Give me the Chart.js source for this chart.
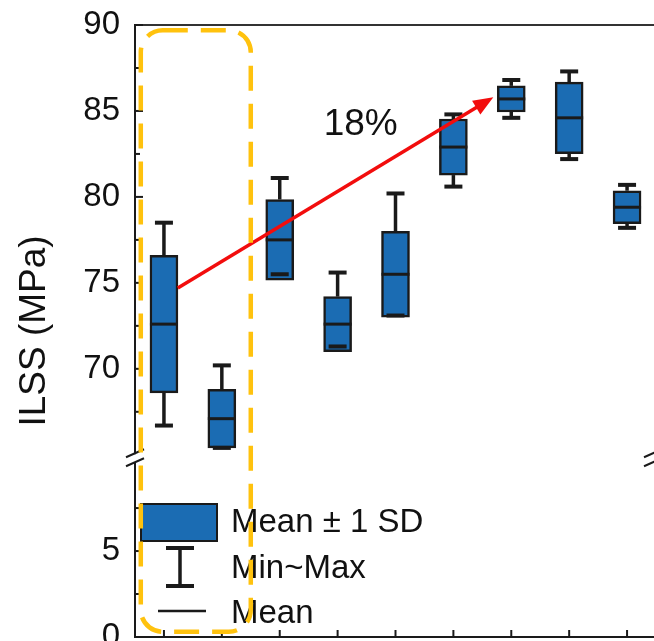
<!DOCTYPE html>
<html>
<head>
<meta charset="utf-8">
<script src="https://cdn.jsdelivr.net/npm/chart.js@4.4.1/dist/chart.umd.min.js"></script>
<style>
  html, body { margin: 0; padding: 0; background: #fff; overflow: hidden; }
  #wrap { width: 660px; height: 665px; }
</style>
</head>
<body>
<div id="wrap"><canvas id="chart" width="660" height="665"></canvas></div>
<script>
// data (ILSS, MPa)
const categories = ['1', '2', '3', '4', '5', '6', '7', '8', '9'];
const meanVals = [72.6, 67.1, 77.5, 72.6, 75.5, 82.9, 85.7, 84.6, 79.4];
const sdVals   = [4.0, 1.7, 2.35, 1.6, 2.5, 1.63, 0.76, 2.08, 0.96];
const minVals  = [66.7, 65.4, 75.5, 71.3, 73.1, 80.6, 84.6, 82.2, 78.2];
const maxVals  = [78.5, 70.2, 81.1, 75.6, 80.2, 84.8, 86.8, 87.3, 80.7];

// broken y axis: upper part + lower part
const upperTicks = [70, 75, 80, 85, 90];
const upperMinor = [67.5, 72.5, 77.5, 82.5, 87.5];
const lowerTicks = [0, 5];
const lowerMinor = [2.5, 7.5];

// annotation values (category index, MPa)
const arrowFrom = [0.24, 74.7];
const arrowTo = [5.69, 85.8];
const arrowLabel = '18%';
const arrowLabelAt = [2.76, 83.6];
const frameCats = [-0.4, 1.5];

const fontFamily = "'Liberation Sans', Arial, sans-serif";
const boxBlue = '#1b6cb3';
const inkColor = '#1a1a1a';

Chart.defaults.font.family = fontFamily;

const boxData = meanVals.map((m, i) => [m - sdVals[i], m + sdVals[i]]);

function line(ctx, x1, y1, x2, y2) {
    ctx.beginPath();
    ctx.moveTo(x1, y1);
    ctx.lineTo(x2, y2);
    ctx.stroke();
}

// whiskers + mean line for every box
const boxExtras = {
    id: 'boxExtras',
    afterDatasetsDraw(chart) {
        const {ctx} = chart;
        const y = chart.scales.y;
        const meta = chart.getDatasetMeta(0);
        ctx.save();
        ctx.strokeStyle = inkColor;
        meta.data.forEach((bar, i) => {
            const cx = bar.x;
            const half = bar.width / 2;
            const yMax = y.getPixelForValue(maxVals[i]);
            const yMin = y.getPixelForValue(minVals[i]);
            const yHi = y.getPixelForValue(meanVals[i] + sdVals[i]);
            const yLo = y.getPixelForValue(meanVals[i] - sdVals[i]);
            const yMean = y.getPixelForValue(meanVals[i]);
            ctx.lineWidth = 3.5;
            if (yMax < yHi) line(ctx, cx, yMax, cx, yHi);
            if (yMin > yLo) line(ctx, cx, yLo, cx, yMin);
            ctx.lineWidth = 4;
            line(ctx, cx - 9, yMax, cx + 9, yMax);
            line(ctx, cx - 9, yMin, cx + 9, yMin);
            ctx.lineWidth = 3;
            line(ctx, cx - half, yMean, cx + half, yMean);
        });
        ctx.restore();
    }
};

// frame top line, inward ticks, axis break marks
const axisDecor = {
    id: 'axisDecor',
    afterDraw(chart) {
        const {ctx, chartArea} = chart;
        const {x, y, yLow} = chart.scales;
        ctx.save();
        ctx.strokeStyle = '#333';
        ctx.lineWidth = 2;
        line(ctx, chartArea.left, chartArea.top, chartArea.right, chartArea.top);

        ctx.strokeStyle = inkColor;
        const L = chartArea.left;
        upperTicks.forEach(v => line(ctx, L, y.getPixelForValue(v), L + 8, y.getPixelForValue(v)));
        upperMinor.forEach(v => line(ctx, L, y.getPixelForValue(v), L + 5, y.getPixelForValue(v)));
        lowerTicks.forEach(v => line(ctx, L, yLow.getPixelForValue(v), L + 8, yLow.getPixelForValue(v)));
        lowerMinor.forEach(v => line(ctx, L, yLow.getPixelForValue(v), L + 5, yLow.getPixelForValue(v)));
        const B = chartArea.bottom;
        categories.forEach((c, i) => line(ctx, x.getPixelForValue(i), B, x.getPixelForValue(i), B - 7));

        // break marks "//" on both sides
        const yb = y.bottom;
        [chartArea.left, chartArea.right - 3].forEach(xb => {
            ctx.fillStyle = '#fff';
            ctx.fillRect(xb - 2, yb - 4, 4, 8);
            ctx.lineWidth = 2;
            line(ctx, xb - 9, yb - 1, xb + 9, yb - 9);
            line(ctx, xb - 9, yb + 8, xb + 9, yb);
        });
        ctx.restore();
    }
};

// arrow, label, dashed frame, legend, y title
const annotations = {
    id: 'annotations',
    afterDraw(chart) {
        const {ctx, chartArea} = chart;
        const {x, y, yLow} = chart.scales;
        ctx.save();

        // red arrow
        const x1 = x.getPixelForValue(arrowFrom[0]), y1 = y.getPixelForValue(arrowFrom[1]);
        const x2 = x.getPixelForValue(arrowTo[0]), y2 = y.getPixelForValue(arrowTo[1]);
        const ang = Math.atan2(y2 - y1, x2 - x1);
        const head = 20;
        ctx.strokeStyle = '#f20d0d';
        ctx.fillStyle = '#f20d0d';
        ctx.lineWidth = 3.5;
        line(ctx, x1, y1, x2 - head * 0.8 * Math.cos(ang), y2 - head * 0.8 * Math.sin(ang));
        ctx.beginPath();
        ctx.moveTo(x2, y2);
        ctx.lineTo(x2 - head * Math.cos(ang) + 8 * Math.sin(ang), y2 - head * Math.sin(ang) - 8 * Math.cos(ang));
        ctx.lineTo(x2 - head * Math.cos(ang) - 8 * Math.sin(ang), y2 - head * Math.sin(ang) + 8 * Math.cos(ang));
        ctx.closePath();
        ctx.fill();

        ctx.fillStyle = '#111';
        ctx.font = '37px ' + fontFamily;
        ctx.textAlign = 'left';
        ctx.textBaseline = 'alphabetic';
        ctx.fillText(arrowLabel, x.getPixelForValue(arrowLabelAt[0]), y.getPixelForValue(arrowLabelAt[1]));

        // legend
        const lx = chartArea.left, lb = chartArea.bottom;
        ctx.fillStyle = boxBlue;
        ctx.strokeStyle = inkColor;
        ctx.lineWidth = 2;
        ctx.fillRect(lx + 6, lb - 133, 76, 37);
        ctx.strokeRect(lx + 6, lb - 133, 76, 37);
        ctx.lineWidth = 3.5;
        line(ctx, lx + 45, lb - 89, lx + 45, lb - 51);
        ctx.lineWidth = 4;
        line(ctx, lx + 31, lb - 89, lx + 59, lb - 89);
        line(ctx, lx + 31, lb - 51, lx + 59, lb - 51);
        ctx.lineWidth = 2.5;
        line(ctx, lx + 23, lb - 26, lx + 71, lb - 26);
        ctx.fillStyle = '#111';
        ctx.font = '33px ' + fontFamily;
        ctx.fillText('Mean \u00b1 1 SD', lx + 96, lb - 105);
        ctx.fillText('Min~Max', lx + 96, lb - 59);
        ctx.fillText('Mean', lx + 96, lb - 14);

        // dashed yellow frame around the first two groups
        const fl = x.getPixelForValue(frameCats[0]);
        const fr = x.getPixelForValue(frameCats[1]);
        const ft = y.getPixelForValue(89.7);
        const fb = yLow.getPixelForValue(0.3);
        ctx.strokeStyle = '#ffc20e';
        ctx.lineWidth = 4.5;
        ctx.setLineDash([25, 13]);
        ctx.beginPath();
        ctx.roundRect(fl, ft, fr - fl, fb - ft, 22);
        ctx.stroke();
        ctx.setLineDash([]);

        // y axis title, centred on the whole broken axis
        ctx.fillStyle = '#111';
        ctx.font = '37px ' + fontFamily;
        ctx.translate(35, (chartArea.top + chartArea.bottom) / 2);
        ctx.rotate(-Math.PI / 2);
        ctx.textAlign = 'center';
        ctx.textBaseline = 'middle';
        ctx.fillText('ILSS (MPa)', 0, 0);
        ctx.restore();
    }
};

const yCommon = {
    type: 'linear',
    position: 'left',
    stack: 'ilss',
    grid: { display: false, drawTicks: false },
    border: { display: true, color: inkColor, width: 2 },
    ticks: { color: '#111', font: { size: 33 }, padding: 15 },
    afterFit: scale => {
        scale.width = 135;
        scale.paddingTop = 0;
        scale.paddingBottom = 0;
    }
};

const ctx = document.getElementById('chart');

const config = {
    type: 'bar',
    data: {
        labels: categories,
        datasets: [{
            label: 'Mean \u00b1 1 SD',
            data: boxData,
            yAxisID: 'y',
            backgroundColor: boxBlue,
            borderColor: inkColor,
            borderWidth: 2.5,
            borderSkipped: false,
            barThickness: 28
        }]
    },
    options: {
        responsive: false,
        animation: false,
        layout: { padding: { top: 25, right: 4, bottom: 28, left: 0 } },
        plugins: {
            legend: { display: false },
            tooltip: { enabled: false }
        },
        scales: {
            x: {
                offset: true,
                grid: { display: false, drawTicks: false },
                ticks: { display: false },
                border: { display: true, color: inkColor, width: 2 },
                afterFit: scale => { scale.height = 0; }
            },
            // lower part first so that it is stacked underneath
            yLow: Object.assign({}, yCommon, {
                min: 0, max: 10.4, stackWeight: 10.4,
                afterBuildTicks: scale => { scale.ticks = lowerTicks.map(v => ({value: v})); }
            }),
            y: Object.assign({}, yCommon, {
                min: 64.8, max: 90, stackWeight: 25.2,
                afterBuildTicks: scale => { scale.ticks = upperTicks.map(v => ({value: v})); }
            })
        }
    },
    plugins: [boxExtras, axisDecor, annotations]
};

const myChart = new Chart(ctx, config);
</script>
</body>
</html>
